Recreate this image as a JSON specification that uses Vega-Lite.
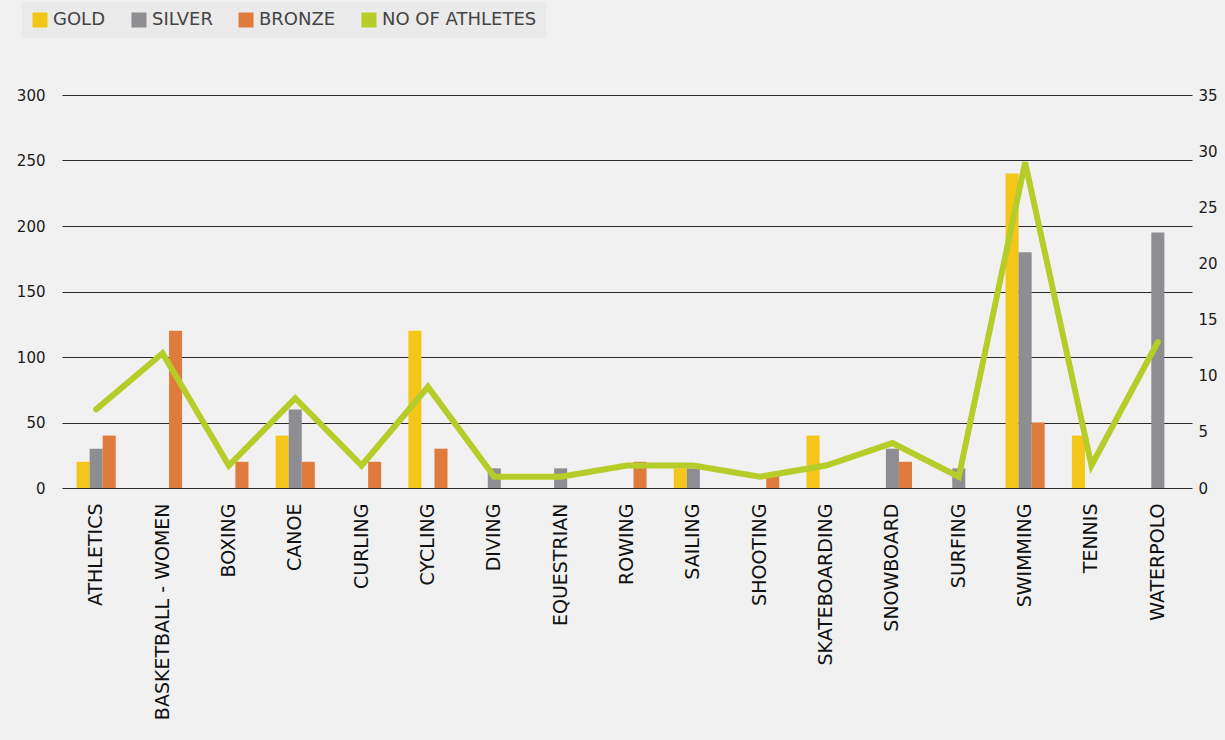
{
  "$schema": "https://vega.github.io/schema/vega-lite/v6.json",
  "autosize": "none",
  "width": 1130,
  "height": 393,
  "padding": {"left": 62, "top": 95, "right": 33, "bottom": 252},
  "background": "#F1F1F1",
  "config": {
    "font": "DejaVu Sans",
    "view": {"stroke": null},
    "axis": {"labelColor": "#1a1a1a", "domain": false, "ticks": false, "title": null}
  },
  "datasets": {
    "medals": [
      {"sport": "ATHLETICS", "medal": "GOLD", "value": 20},
      {"sport": "ATHLETICS", "medal": "SILVER", "value": 30},
      {"sport": "ATHLETICS", "medal": "BRONZE", "value": 40},
      {"sport": "BASKETBALL - WOMEN", "medal": "BRONZE", "value": 120},
      {"sport": "BOXING", "medal": "BRONZE", "value": 20},
      {"sport": "CANOE", "medal": "GOLD", "value": 40},
      {"sport": "CANOE", "medal": "SILVER", "value": 60},
      {"sport": "CANOE", "medal": "BRONZE", "value": 20},
      {"sport": "CURLING", "medal": "BRONZE", "value": 20},
      {"sport": "CYCLING", "medal": "GOLD", "value": 120},
      {"sport": "CYCLING", "medal": "BRONZE", "value": 30},
      {"sport": "DIVING", "medal": "SILVER", "value": 15},
      {"sport": "EQUESTRIAN", "medal": "SILVER", "value": 15},
      {"sport": "ROWING", "medal": "BRONZE", "value": 20},
      {"sport": "SAILING", "medal": "GOLD", "value": 15},
      {"sport": "SAILING", "medal": "SILVER", "value": 15},
      {"sport": "SHOOTING", "medal": "BRONZE", "value": 10},
      {"sport": "SKATEBOARDING", "medal": "GOLD", "value": 40},
      {"sport": "SNOWBOARD", "medal": "SILVER", "value": 30},
      {"sport": "SNOWBOARD", "medal": "BRONZE", "value": 20},
      {"sport": "SURFING", "medal": "SILVER", "value": 15},
      {"sport": "SWIMMING", "medal": "GOLD", "value": 240},
      {"sport": "SWIMMING", "medal": "SILVER", "value": 180},
      {"sport": "SWIMMING", "medal": "BRONZE", "value": 50},
      {"sport": "TENNIS", "medal": "GOLD", "value": 40},
      {"sport": "WATERPOLO", "medal": "SILVER", "value": 195}
    ],
    "athletes": [
      {"sport": "ATHLETICS", "series": "NO OF ATHLETES", "athletes": 7},
      {"sport": "BASKETBALL - WOMEN", "series": "NO OF ATHLETES", "athletes": 12},
      {"sport": "BOXING", "series": "NO OF ATHLETES", "athletes": 2},
      {"sport": "CANOE", "series": "NO OF ATHLETES", "athletes": 8},
      {"sport": "CURLING", "series": "NO OF ATHLETES", "athletes": 2},
      {"sport": "CYCLING", "series": "NO OF ATHLETES", "athletes": 9},
      {"sport": "DIVING", "series": "NO OF ATHLETES", "athletes": 1},
      {"sport": "EQUESTRIAN", "series": "NO OF ATHLETES", "athletes": 1},
      {"sport": "ROWING", "series": "NO OF ATHLETES", "athletes": 2},
      {"sport": "SAILING", "series": "NO OF ATHLETES", "athletes": 2},
      {"sport": "SHOOTING", "series": "NO OF ATHLETES", "athletes": 1},
      {"sport": "SKATEBOARDING", "series": "NO OF ATHLETES", "athletes": 2},
      {"sport": "SNOWBOARD", "series": "NO OF ATHLETES", "athletes": 4},
      {"sport": "SURFING", "series": "NO OF ATHLETES", "athletes": 1},
      {"sport": "SWIMMING", "series": "NO OF ATHLETES", "athletes": 29},
      {"sport": "TENNIS", "series": "NO OF ATHLETES", "athletes": 2},
      {"sport": "WATERPOLO", "series": "NO OF ATHLETES", "athletes": 13}
    ]
  },
  "encoding": {
    "x": {
      "field": "sport",
      "type": "nominal",
      "scale": {
        "domain": ["ATHLETICS", "BASKETBALL - WOMEN", "BOXING", "CANOE", "CURLING", "CYCLING", "DIVING", "EQUESTRIAN", "ROWING", "SAILING", "SHOOTING", "SKATEBOARDING", "SNOWBOARD", "SURFING", "SWIMMING", "TENNIS", "WATERPOLO"],
        "paddingInner": 0.41,
        "paddingOuter": 0.22
      },
      "axis": {"labelAngle": -90, "labelFontSize": 19, "labelPadding": 15, "labelColor": "#111", "labelLimit": 0}
    },
    "color": {
      "field": "medal",
      "type": "nominal",
      "scale": {
        "domain": ["GOLD", "SILVER", "BRONZE", "NO OF ATHLETES"],
        "range": ["#F4C61A", "#8E8E92", "#E07B3E", "#B6CC28"]
      },
      "legend": {
        "title": null,
        "orient": "none",
        "direction": "horizontal",
        "legendX": -40,
        "legendY": -93,
        "symbolType": "square",
        "symbolSize": 225,
        "symbolStrokeWidth": 0,
        "symbolOpacity": 1,
        "labelFontSize": 18,
        "labelColor": "#444",
        "labelOffset": 4,
        "columnPadding": 24,
        "padding": 9,
        "fillColor": "#EAEAEA"
      }
    }
  },
  "layer": [
    {
      "data": {"name": "medals"},
      "mark": {"type": "bar"},
      "encoding": {
        "xOffset": {"field": "medal", "type": "nominal", "scale": {"domain": ["GOLD", "SILVER", "BRONZE"], "paddingInner": 0, "paddingOuter": 0}},
        "y": {
          "field": "value",
          "type": "quantitative",
          "scale": {"domain": [0, 300], "nice": false},
          "axis": {"values": [0, 50, 100, 150, 200, 250, 300], "grid": true, "gridColor": "#2a2a2a", "gridWidth": 1, "labelFontSize": 15, "labelPadding": 17}
        }
      }
    },
    {
      "data": {"name": "athletes"},
      "mark": {"type": "line", "strokeWidth": 6, "strokeCap": "round", "strokeJoin": "miter"},
      "encoding": {
        "y": {
          "field": "athletes",
          "type": "quantitative",
          "scale": {"domain": [0, 35], "nice": false},
          "axis": {"orient": "right", "values": [0, 5, 10, 15, 20, 25, 30, 35], "grid": false, "labelFontSize": 15, "labelPadding": 6}
        },
        "color": {"field": "series", "type": "nominal"}
      }
    }
  ],
  "resolve": {"scale": {"y": "independent"}}
}
